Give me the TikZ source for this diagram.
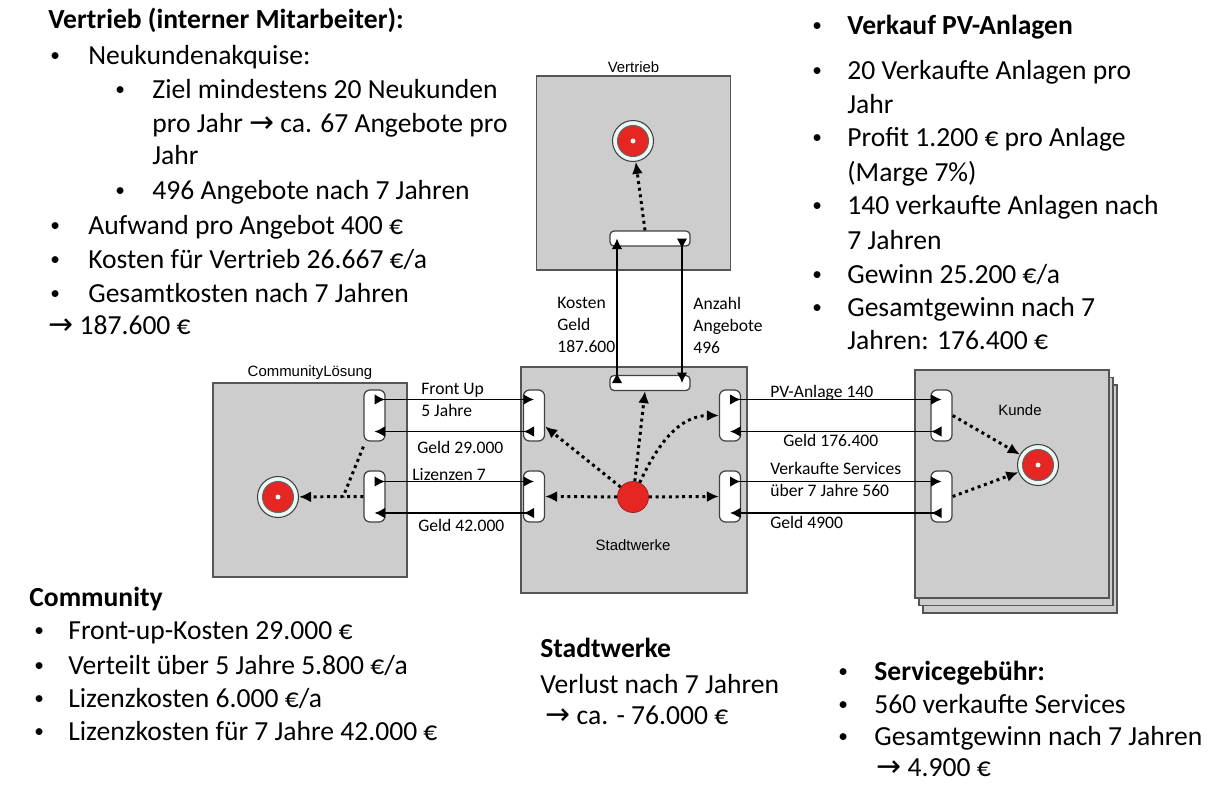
\documentclass[tikz,border=0pt]{standalone}
\usepackage{fontspec}
\setmainfont{Carlito}
\newfontfamily\arialfont{Liberation Sans}
\newfontfamily\arrowfont{DejaVu Sans}
\usetikzlibrary{positioning, arrows.meta, calc}

\definecolor{boxgray}{RGB}{205,205,205}
\definecolor{boxline}{RGB}{85,85,85}
\definecolor{stimred}{RGB}{230,38,34}
\definecolor{ringfill}{RGB}{236,246,242}

\newcommand{\bodysize}{\fontsize{15.7}{19}\selectfont}
\newcommand{\blt}[2]{\makebox[#1][l]{\raisebox{1.5pt}{\fontsize{11}{11}\selectfont\textbullet}}#2}
\newcommand{\rarr}{{\arrowfont\fontsize{17}{19}\selectfont →}}

\tikzset{
  actor/.style={draw=boxline, fill=boxgray, line width=1pt, inner sep=0pt,
    minimum width=3.88cm, minimum height=3.88cm},
  actorname/.style={font=\arialfont\fontsize{8.5}{10}\selectfont, inner sep=1pt},
  ifacev/.style={draw=black!75, fill=white, rounded corners=0.12cm, line width=0.7pt,
    minimum width=0.42cm, minimum height=1.02cm, inner sep=0pt},
  ifaceh/.style={draw=black!75, fill=white, rounded corners=0.08cm, line width=0.7pt,
    minimum width=1.6cm, minimum height=0.3cm, inner sep=0pt},
  endstim/.style={circle, draw=black!75, fill=ringfill, line width=0.6pt,
    minimum size=0.82cm, inner sep=0pt,
    path picture={
      \filldraw[fill=stimred, draw=black!60] (path picture bounding box.center) circle (0.31cm);
      \fill (path picture bounding box.center) circle (0.05cm);}},
  startstim/.style={circle, draw=stimred!70!black, fill=stimred, line width=0.4pt,
    minimum size=0.62cm, inner sep=0pt,
    path picture={\fill (path picture bounding box.center) circle (0.05cm);}},
  xfer/.style={line width=0.8pt,
    {Latex[reversed,length=0.21cm,width=0.21cm]}-{Latex[length=0.21cm,width=0.21cm]}},
  dep/.style={line width=1.7pt, dash pattern=on 1.7pt off 2.1pt,
    -{Latex[length=0.24cm,width=0.22cm]}},
  flowlbl/.style={font=\fontsize{10}{12.5}\selectfont, align=left, anchor=west, inner sep=0pt},
  txt/.style={font=\bodysize, anchor=west, inner sep=0pt, text height=11pt, text depth=3.5pt},
}

\begin{document}
\begin{tikzpicture}[x=0.02cm, y=-0.02cm]
    % Canvas
    \useasboundingbox (0,0) rectangle (1220,785);
    \fill[white] (0,0) rectangle (1220,785);

    % Actors
    \node[actor] (vertrieb) at (633.5,173) {};
    \node[actor, minimum width=4.52cm, minimum height=4.52cm] (stadtwerke) at (634,480) {};
    \node[actor] (community) at (310,480) {};
    \node[actor, minimum height=4.56cm] (kunde3) at (1020,499) {};
    \node[actor, minimum height=4.56cm] (kunde2) at (1016,491.5) {};
    \node[actor, minimum height=4.56cm] (kunde) at (1012,484) {};

    \node[actorname, above=0pt of vertrieb] (vertriebName) {Vertrieb};
    \node[actorname, above=0pt of community] (communityName) {CommunityLösung};
    \node[actorname] (stadtwerkeName) at (633,545) {Stadtwerke};
    \node[actorname] (kundeName) at (1020,410) {Kunde};

    % Value interfaces
    \node[ifacev] (cIU) at (374.5,415.5) {};
    \node[ifacev] (cIL) at (374.5,496.5) {};
    \node[ifacev] (sIL1) at (534,415.5) {};
    \node[ifacev] (sIL2) at (534,496.5) {};
    \node[ifacev] (sIR1) at (730,415.5) {};
    \node[ifacev] (sIR2) at (730,496.5) {};
    \node[ifacev] (kIU) at (941.5,415.5) {};
    \node[ifacev] (kIL) at (941.5,496.5) {};
    \node[ifaceh] (sIT) at (650,383) {};
    \node[ifaceh] (vIB) at (650,238.5) {};

    % Stimuli
    \node[endstim] (vStim) at (633,141) {};
    \node[endstim] (cStim) at (278,497) {};
    \node[endstim] (kStim) at (1038,465) {};
    \node[startstim] (sStim) at (633,497) {};

    % Value exchanges
    \draw[xfer] ([yshift=0.32cm]cIU.center) -- ([yshift=0.32cm]sIL1.center);
    \draw[xfer] ([yshift=-0.32cm]sIL1.center) -- ([yshift=-0.32cm]cIU.center);
    \draw[xfer] ([yshift=0.30cm]cIL.center) -- ([yshift=0.30cm]sIL2.center);
    \draw[xfer] ([yshift=-0.33cm]sIL2.center) -- ([yshift=-0.33cm]cIL.center);
    \draw[xfer] ([yshift=0.32cm]sIR1.center) -- ([yshift=0.32cm]kIU.center);
    \draw[xfer] ([yshift=-0.32cm]kIU.center) -- ([yshift=-0.32cm]sIR1.center);
    \draw[xfer] ([yshift=0.30cm]sIR2.center) -- ([yshift=0.30cm]kIL.center);
    \draw[xfer] ([yshift=-0.33cm]kIL.center) -- ([yshift=-0.33cm]sIR2.center);
    \draw[xfer] ([xshift=-0.66cm]sIT.center) -- ([xshift=-0.66cm]vIB.center);
    \draw[xfer] ([xshift=0.64cm]vIB.center) -- ([xshift=0.64cm]sIT.center);

    % Dependency paths
    \draw[dep] ([xshift=-0.1cm]vIB.north) -- (vStim);
    \draw[dep] (sStim) -- ([yshift=-0.22cm]sIL1.east);
    \draw[dep] (sStim) -- (sIL2.east);
    \draw[dep] (sStim) -- ([xshift=-0.1cm]sIT.south);
    \draw[dep] (sStim) to[out=65, in=180] (sIR1.west);
    \draw[dep] (sStim) -- (sIR2.west);
    \coordinate (cJoin) at (343,497);
    \draw[dep, -] ([yshift=-0.1cm]cIU.south west) -- (cJoin);
    \draw[dep] (cIL.west) -- (cStim);
    \draw[dep] (kIU.east) -- (kStim);
    \draw[dep] (kIL.east) -- (kStim);

    % Exchange labels
    \node[flowlbl] (fuLbl) at (421,400) {Front Up\\5 Jahre};
    \node[flowlbl] (g29Lbl) at (417,447) {Geld 29.000};
    \node[flowlbl] (lizLbl) at (412,475) {Lizenzen 7};
    \node[flowlbl] (g42Lbl) at (418,525) {Geld 42.000};
    \node[flowlbl] (pvLbl) at (770,393) {PV-Anlage 140};
    \node[flowlbl] (g176Lbl) at (783,440) {Geld 176.400};
    \node[flowlbl] (svcLbl) at (770,479) {Verkaufte Services\\über 7 Jahre 560};
    \node[flowlbl] (g49Lbl) at (770,522) {Geld 4900};
    \node[flowlbl] (kostLbl) at (557,325) {Kosten\\Geld\\187.600};
    \node[flowlbl] (anzLbl) at (693,325) {Anzahl\\Angebote\\496};

    % Vertrieb notes
    \node[txt] (vHead) at (48,22) {\textbf{Vertrieb (interner Mitarbeiter):}};
    \node[txt] (vN1) at (50,58) {\blt{0.76cm}{Neukundenakquise:}};
    \node[txt] (vN2) at (115,92) {\blt{0.74cm}{Ziel mindestens 20 Neukunden}};
    \node[txt] (vN3) at (152,126) {pro Jahr \rarr{} ca. 67 Angebote pro};
    \node[txt] (vN4) at (152,158) {Jahr};
    \node[txt] (vN5) at (115,193) {\blt{0.74cm}{496 Angebote nach 7 Jahren}};
    \node[txt] (vN6) at (50,228) {\blt{0.76cm}{Aufwand pro Angebot 400 €}};
    \node[txt] (vN7) at (50,262) {\blt{0.76cm}{Kosten für Vertrieb 26.667 €/a}};
    \node[txt] (vN8) at (50,296) {\blt{0.76cm}{Gesamtkosten nach 7 Jahren}};
    \node[txt] (vN9) at (48,328) {\rarr{} 187.600 €};

    % PV notes
    \node[txt] (pHead) at (812,28) {\blt{0.7cm}{\textbf{Verkauf PV-Anlagen}}};
    \node[txt] (pN1) at (812,73) {\blt{0.7cm}{20 Verkaufte Anlagen pro}};
    \node[txt] (pN2) at (847,107) {Jahr};
    \node[txt] (pN3) at (812,140) {\blt{0.7cm}{Profit 1.200 € pro Anlage}};
    \node[txt] (pN4) at (847,175) {(Marge 7\%)};
    \node[txt] (pN5) at (812,208) {\blt{0.7cm}{140 verkaufte Anlagen nach}};
    \node[txt] (pN6) at (847,243) {7 Jahren};
    \node[txt] (pN7) at (812,277) {\blt{0.7cm}{Gewinn 25.200 €/a}};
    \node[txt] (pN8) at (812,310) {\blt{0.7cm}{Gesamtgewinn nach 7}};
    \node[txt] (pN9) at (847,343) {Jahren: 176.400 €};

    % Community notes
    \node[txt] (cHead) at (29,600) {\textbf{Community}};
    \node[txt] (cN1) at (34,633) {\blt{0.68cm}{Front-up-Kosten 29.000 €}};
    \node[txt] (cN2) at (34,668) {\blt{0.68cm}{Verteilt über 5 Jahre 5.800 €/a}};
    \node[txt] (cN3) at (34,701) {\blt{0.68cm}{Lizenzkosten 6.000 €/a}};
    \node[txt] (cN4) at (34,734) {\blt{0.68cm}{Lizenzkosten für 7 Jahre 42.000 €}};

    % Stadtwerke notes
    \node[txt] (sHead) at (540,651) {\textbf{Stadtwerke}};
    \node[txt] (sN1) at (540,687) {Verlust nach 7 Jahren};
    \node[txt] (sN2) at (545,718) {\rarr{} ca. - 76.000 €};

    % Service notes
    \node[txt] (eHead) at (838,674) {\blt{0.72cm}{\textbf{Servicegebühr:}}};
    \node[txt] (eN1) at (838,707) {\blt{0.72cm}{560 verkaufte Services}};
    \node[txt] (eN2) at (838,739) {\blt{0.72cm}{Gesamtgewinn nach 7 Jahren}};
    \node[txt] (eN3) at (876,770) {\rarr{} 4.900 €};
\end{tikzpicture}
\end{document}
